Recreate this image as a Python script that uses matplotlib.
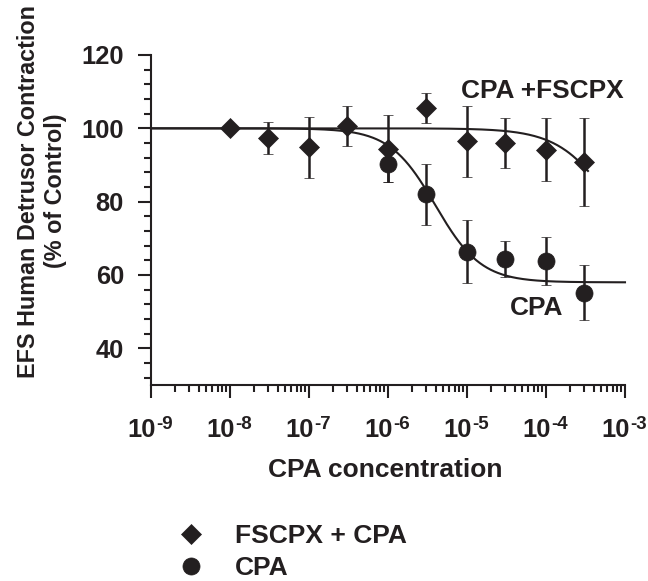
import numpy as np
import matplotlib
matplotlib.use('Agg')
import matplotlib.pyplot as plt
from matplotlib.lines import Line2D
from matplotlib.ticker import LogLocator, MultipleLocator, FixedLocator, NullFormatter

plt.rcParams['font.family'] = ['Liberation Sans', 'DejaVu Sans']
plt.rcParams['font.weight'] = 'bold'

INK = '#231f20'

# ---------------- data ----------------
conc_fscpx = [1e-8, 3e-8, 1e-7, 3e-7, 1e-6, 3e-6, 1e-5, 3e-5, 1e-4, 3e-4]
resp_fscpx = [100.0, 97.4, 94.8, 100.6, 94.5, 105.5, 96.5, 95.9, 94.2, 90.8]
err_fscpx = [0.0, 4.4, 8.4, 5.5, 9.0, 4.0, 9.7, 6.8, 8.5, 12.1]

conc_cpa = [1e-6, 3e-6, 1e-5, 3e-5, 1e-4, 3e-4]
resp_cpa = [90.3, 82.0, 66.4, 64.4, 63.8, 55.2]
err_cpa = [5.0, 8.4, 8.6, 4.9, 6.6, 7.4]

# sigmoidal fit parameters (top, bottom, logEC50, Hill slope) and fitted range
fit_cpa = (100.0, 58.0, -5.40, 1.5)
fit_cpa_range = (1e-9, 1e-3)
fit_fscpx = (100.0, 58.0, -3.14, 1.27)
fit_fscpx_range = (1e-9, 3.4e-4)

xtick_exponents = [-9, -8, -7, -6, -5, -4, -3]
yticks = [40, 60, 80, 100, 120]

label_fscpx = 'FSCPX + CPA'
label_cpa = 'CPA'


def sigmoid(x, params):
    top, bottom, logec50, hill = params
    return bottom + (top - bottom) / (1.0 + 10 ** (hill * (np.log10(x) - logec50)))


fig = plt.figure(figsize=(6.48, 5.81), dpi=100)
ax = fig.add_axes([151 / 648, 1 - 385 / 581, 474 / 648, 330 / 581])

# fitted curves
for params, rng in [(fit_cpa, fit_cpa_range), (fit_fscpx, fit_fscpx_range)]:
    xf = np.logspace(np.log10(rng[0]), np.log10(rng[1]), 400)
    ax.plot(xf, sigmoid(xf, params), color=INK, lw=1.5, zorder=2, clip_on=False)

# data with error bars
ax.errorbar(conc_cpa, resp_cpa, yerr=err_cpa, fmt='o', ms=12.3, mfc=INK, mec=INK,
            mew=0.5, ecolor=INK, elinewidth=1.8, capsize=3.8, capthick=1.8, zorder=3)
ax.errorbar(conc_fscpx, resp_fscpx, yerr=err_fscpx, fmt='D', ms=10.6, mfc=INK, mec=INK,
            mew=0.5, ecolor=INK, elinewidth=1.8, capsize=3.8, capthick=1.8, zorder=4)

ax.set_xscale('log')
ax.set_xlim(1e-9, 1e-3)
ax.set_ylim(30, 120)

for s in ['top', 'right']:
    ax.spines[s].set_visible(False)
for s in ['left', 'bottom']:
    ax.spines[s].set_linewidth(1.5)
    ax.spines[s].set_color(INK)

ax.xaxis.set_major_locator(FixedLocator([10.0 ** e for e in xtick_exponents]))
ax.xaxis.set_minor_locator(LogLocator(base=10, subs=np.arange(2, 10), numticks=20))
ax.xaxis.set_minor_formatter(NullFormatter())
ax.set_xticklabels([''] * len(xtick_exponents))

# x tick labels: "10" with a raised, smaller exponent
for e in xtick_exponents:
    ax.annotate('10', xy=(10.0 ** e, 0), xycoords=('data', 'axes fraction'),
                xytext=(4.5, -52), textcoords='offset pixels', ha='right', va='baseline',
                fontsize=18.4, fontweight='bold', color=INK, annotation_clip=False)
    ax.annotate('-%d' % abs(e), xy=(10.0 ** e, 0), xycoords=('data', 'axes fraction'),
                xytext=(5.5, -44), textcoords='offset pixels', ha='left', va='baseline',
                fontsize=13.5, fontweight='bold', color=INK, annotation_clip=False)

ax.yaxis.set_major_locator(FixedLocator(yticks))
ax.yaxis.set_minor_locator(MultipleLocator(4))
ax.set_yticklabels([str(v) for v in yticks])

ax.tick_params(axis='both', which='major', direction='out', length=9.5, width=1.5,
               color=INK, labelcolor=INK, labelsize=18.4)
ax.tick_params(axis='both', which='minor', direction='out', length=5, width=1.5, color=INK)
ax.tick_params(axis='y', which='major', pad=10)

ax.set_xlabel('CPA concentration', fontsize=19, fontweight='bold', color=INK)
ax.xaxis.set_label_coords((385 - 151) / 474, (385 - 458) / 330)
ax.xaxis.label.set_va('top')

fig.text(42 / 648, 1 - 191 / 581, 'EFS Human Detrusor Contraction\n(% of Control)',
         rotation=90, ha='center', va='center', multialignment='center',
         fontsize=16.8, fontweight='bold', color=INK, linespacing=1.25)

ax.text(8.95e-5, 108.2, 'CPA +FSCPX', ha='center', va='baseline', fontsize=18.9,
        fontweight='bold', color=INK)
ax.text(7.7e-5, 49.1, 'CPA', ha='center', va='baseline', fontsize=18.9,
        fontweight='bold', color=INK)

handles = [Line2D([], [], marker='D', ms=10.6, color=INK, ls='none', mew=0.5),
           Line2D([], [], marker='o', ms=12.3, color=INK, ls='none', mew=0.5)]
fs_leg = 19
fig.legend(handles, [label_fscpx, label_cpa], loc='center left',
           bbox_to_anchor=(178 / 648, 1 - 552 / 581), frameon=False,
           prop={'weight': 'bold', 'size': fs_leg},
           handlelength=1.0, handletextpad=1.15, labelspacing=0.32,
           borderpad=0, borderaxespad=0, labelcolor=INK)

fig.savefig('out.png', dpi=100)
